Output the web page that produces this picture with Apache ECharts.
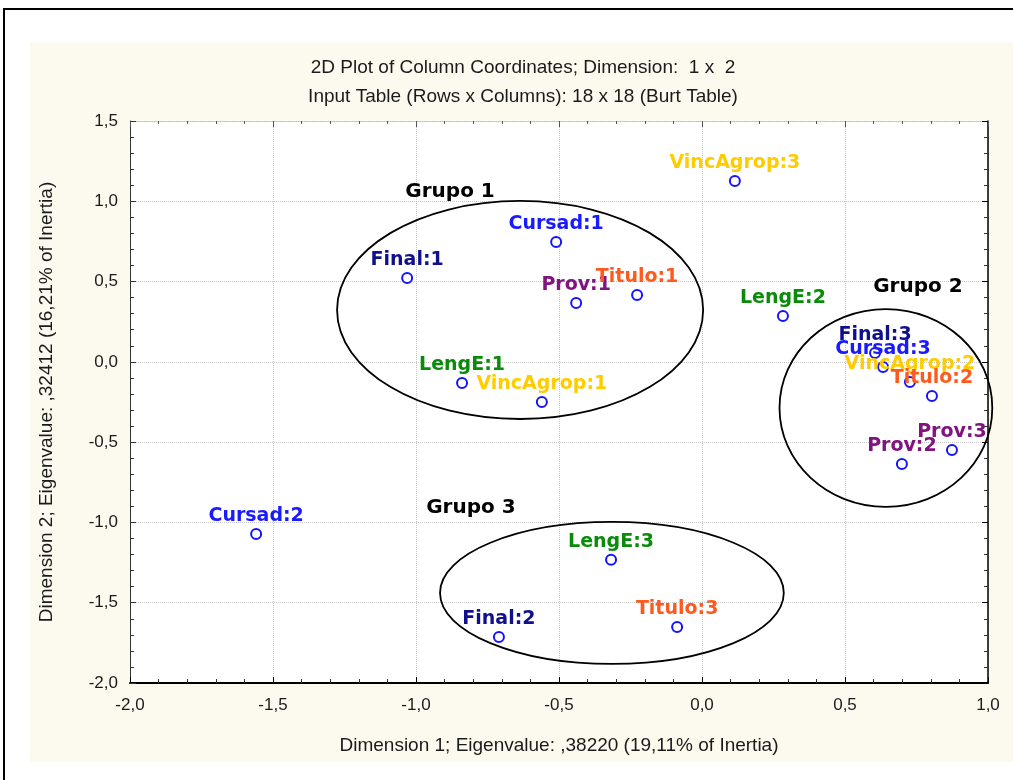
<!DOCTYPE html>
<html>
<head>
<meta charset="utf-8">
<script src="https://cdn.jsdelivr.net/npm/echarts@6/dist/echarts.min.js"></script>
<style>
  html, body { margin: 0; padding: 0; background: #fff; }
  #chart { width: 1013px; height: 780px; }
</style>
</head>
<body>
<div id="chart"></div>
<script>
// column coordinates
let pointNames = ['VincAgrop:3', 'Cursad:1', 'Final:1', 'Prov:1', 'Titulo:1', 'LengE:2',
  'LengE:1', 'VincAgrop:1', 'Final:3', 'Cursad:3', 'VincAgrop:2', 'Titulo:2',
  'Prov:3', 'Prov:2', 'Cursad:2', 'LengE:3', 'Titulo:3', 'Final:2']
let pointX = [0.115, -0.51, -1.031, -0.44, -0.227, 0.283,
  -0.839, -0.56, 0.605, 0.633, 0.727, 0.804,
  0.874, 0.699, -1.559, -0.318, -0.087, -0.71]
let pointY = [1.126, 0.747, 0.522, 0.367, 0.417, 0.286,
  -0.131, -0.25, 0.055, -0.032, -0.125, -0.212,
  -0.549, -0.636, -1.072, -1.233, -1.651, -1.713]

// group ellipses: center x, center y, radius x, radius y (data units)
let groupNames = ['Grupo 1', 'Grupo 2', 'Grupo 3']
let groupEllipses = [[-0.636, 0.323, 0.64, 0.679], [0.643, -0.287, 0.372, 0.616], [-0.315, -1.439, 0.601, 0.442]]
let groupLabelPos = [[-0.881, 1.058], [0.755, 0.466], [-0.808, -0.91]]

let xTicks = [-2, -1.5, -1, -0.5, 0, 0.5, 1]
let yTicks = [-2, -1.5, -1, -0.5, 0, 0.5, 1, 1.5]

let varColors = {
	Cursad: '#1a1aff',
	Final: '#10108c',
	Prov: '#801480',
	Titulo: '#ff5a1e',
	LengE: '#0a8c0a',
	VincAgrop: '#ffcc00'
}

let comma = v => v.toFixed(1).replace('.', ',')

let pointData = pointNames.map((n, i) => {
	return {
		value: [pointX[i], pointY[i]],
		name: n,
		label: { color: varColors[n.split(':')[0]] }
	}
})

let txtFont = 'Liberation Sans'

let chart = echarts.init(document.getElementById('chart'))
let option = {
	backgroundColor: '#fff',
	animation: false,
	graphic: [
		{ type: 'rect', z: -10, shape: { x: 4, y: 9, width: 1030, height: 800 }, style: { fill: '#fff', stroke: '#000', lineWidth: 2 } },
		{ type: 'rect', z: -9, shape: { x: 30, y: 42, width: 1000, height: 720 }, style: { fill: '#fcf9ee' } },
		{ type: 'text', x: 523, y: 68, style: { text: '2D Plot of Column Coordinates; Dimension:  1 x  2', textAlign: 'center', textVerticalAlign: 'middle', font: '19px "Liberation Sans"', fill: '#1a1a1a' } },
		{ type: 'text', x: 523, y: 97, style: { text: 'Input Table (Rows x Columns): 18 x 18 (Burt Table)', textAlign: 'center', textVerticalAlign: 'middle', font: '19px "Liberation Sans"', fill: '#1a1a1a' } }
	],
	grid: {
		left: 130,
		right: 25,
		top: 121,
		bottom: 97,
		show: true,
		backgroundColor: '#fff',
		borderWidth: 0
	},
	xAxis: [{
			type: 'value',
			min: xTicks[0],
			max: xTicks[xTicks.length - 1],
			interval: 0.5,
			position: 'bottom',
			name: 'Dimension 1; Eigenvalue: ,38220 (19,11% of Inertia)',
			nameLocation: 'middle',
			nameGap: 53,
			nameTextStyle: { color: '#1a1a1a', fontSize: 19, fontFamily: txtFont },
			axisLine: { show: true, onZero: false, lineStyle: { color: '#000', width: 2 } },
			axisTick: { show: true, inside: true, length: 6, lineStyle: { color: '#000' } },
			minorTick: { show: true, splitNumber: 5, length: 4, lineStyle: { color: '#333' } },
			splitLine: { show: true, lineStyle: { color: '#c8c8c8', type: 'dotted' } },
			axisLabel: { formatter: comma, margin: 14, color: '#1a1a1a', fontSize: 17, fontFamily: txtFont }
		},
		{
			type: 'value',
			min: xTicks[0],
			max: xTicks[xTicks.length - 1],
			interval: 0.5,
			position: 'top',
			axisLine: { show: true, onZero: false, lineStyle: { color: '#bdbdbd', type: 'dotted' } },
			axisTick: { show: true, inside: true, length: 6, lineStyle: { color: '#555' } },
			minorTick: { show: true, splitNumber: 5, length: 3, lineStyle: { color: '#555' } },
			splitLine: { show: false },
			axisLabel: { show: false }
		}
	],
	yAxis: [{
			type: 'value',
			min: yTicks[0],
			max: yTicks[yTicks.length - 1],
			interval: 0.5,
			position: 'left',
			name: 'Dimension 2; Eigenvalue: ,32412 (16,21% of Inertia)',
			nameLocation: 'middle',
			nameGap: 74,
			nameTextStyle: { color: '#1a1a1a', fontSize: 19, fontFamily: txtFont },
			axisLine: { show: true, onZero: false, lineStyle: { color: '#333', width: 1 } },
			axisTick: { show: true, inside: true, length: 6, lineStyle: { color: '#333' } },
			minorTick: { show: true, splitNumber: 5, length: 4, lineStyle: { color: '#333' } },
			splitLine: { show: true, lineStyle: { color: '#c8c8c8', type: 'dotted' } },
			axisLabel: { formatter: comma, margin: 12, color: '#1a1a1a', fontSize: 17, fontFamily: txtFont }
		},
		{
			type: 'value',
			min: yTicks[0],
			max: yTicks[yTicks.length - 1],
			interval: 0.5,
			position: 'right',
			axisLine: { show: true, onZero: false, lineStyle: { color: '#000', width: 1.5 } },
			axisTick: { show: true, inside: true, length: 6, lineStyle: { color: '#000' } },
			minorTick: { show: true, splitNumber: 5, length: 4, lineStyle: { color: '#333' } },
			splitLine: { show: false },
			axisLabel: { show: false }
		}
	],
	series: [{
			// group ellipses
			type: 'custom',
			xAxisIndex: 0,
			yAxisIndex: 0,
			clip: false,
			silent: true,
			z: 2,
			renderItem: (params, api) => {
				let c = api.coord([api.value(0), api.value(1)])
				let s = api.size([api.value(2), api.value(3)])
				return {
					type: 'ellipse',
					shape: { cx: c[0], cy: c[1], rx: s[0], ry: s[1] },
					style: { fill: 'none', stroke: '#000', lineWidth: 1.8 }
				}
			},
			data: groupEllipses
		},
		{
			// group titles
			type: 'scatter',
			symbolSize: 0,
			silent: true,
			z: 3,
			itemStyle: { opacity: 1 },
			label: {
				show: true,
				position: 'inside',
				formatter: p => p.name,
				color: '#000',
				fontSize: 20,
				fontWeight: 'bold',
				fontFamily: 'DejaVu Sans'
			},
			data: groupNames.map((n, i) => ({ name: n, value: groupLabelPos[i] }))
		},
		{
			// column points
			type: 'scatter',
			symbol: 'circle',
			symbolSize: 10,
			z: 4,
			itemStyle: { color: '#fff', borderColor: '#1414ff', borderWidth: 2, opacity: 1 },
			label: {
				show: true,
				position: 'top',
				distance: 2,
				formatter: p => p.name,
				fontSize: 19,
				fontWeight: 'bold',
				fontFamily: 'DejaVu Sans'
			},
			labelLayout: { hideOverlap: false },
			data: pointData
		}
	]
}
chart.setOption(option)
</script>
</body>
</html>
